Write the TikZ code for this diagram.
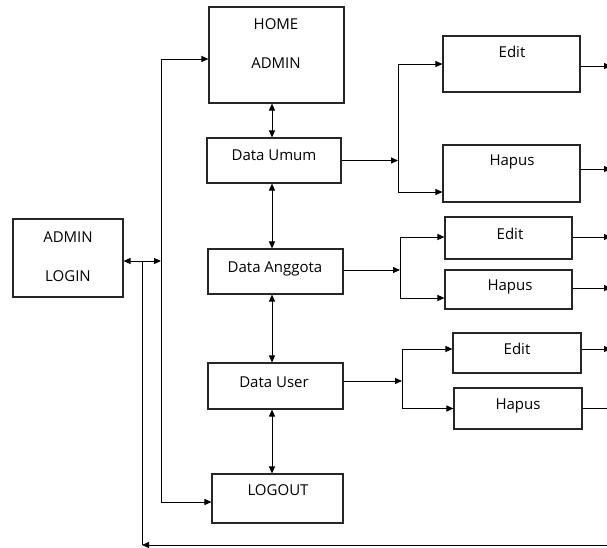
\documentclass[tikz,border=0pt]{standalone}
\usepackage{fontspec}
\setmainfont{Open Sans}
\usetikzlibrary{arrows.meta}
\begin{document}
\begin{tikzpicture}[x=1pt,y=-1pt,
  box/.style={draw=black!85,line width=1.1pt,rectangle,inner sep=0pt},
  txt/.style={anchor=base,inner sep=0pt,font=\fontsize{15}{17}\selectfont},
  conn/.style={line width=1pt},
  arr/.style={conn,-{Triangle[length=7pt,width=6pt]}},
  darr/.style={conn,{Triangle[length=7pt,width=6pt]}-{Triangle[length=7pt,width=6pt]}}]
\useasboundingbox (0,0) rectangle (607,547);
\clip (0,0) rectangle (607,547);
% boxes
\node[box,minimum width=110pt,minimum height=78pt] (login) at (68,258) {};
\node[box,minimum width=135pt,minimum height=96pt] (home) at (276.5,55) {};
\node[box,minimum width=134pt,minimum height=45pt] (umum) at (274,160.5) {};
\node[box,minimum width=135pt,minimum height=45pt] (anggota) at (275.5,271.5) {};
\node[box,minimum width=135pt,minimum height=46pt] (user) at (275.5,386) {};
\node[box,minimum width=131pt,minimum height=49pt] (logout) at (277.5,498.5) {};
\node[box,minimum width=137pt,minimum height=56pt] (edit1) at (511.5,64) {};
\node[box,minimum width=137pt,minimum height=57pt] (hapus1) at (511.5,173.5) {};
\node[box,minimum width=127pt,minimum height=42pt] (edit2) at (508.5,238) {};
\node[box,minimum width=127pt,minimum height=39pt] (hapus2) at (508.5,289.5) {};
\node[box,minimum width=128pt,minimum height=40pt] (edit3) at (517,353) {};
\node[box,minimum width=128pt,minimum height=41pt] (hapus3) at (518,408.5) {};
% texts
\node[txt] (loginA) at (68,242.5) {ADMIN};
\node[txt] (loginB) at (68,281.5) {LOGIN};
\node[txt] (homeA) at (276,29.5) {HOME};
\node[txt] (homeB) at (276,68.5) {ADMIN};
\node[txt] (umumT) at (274,160.5) {Data Umum};
\node[txt] (anggotaT) at (275,272.5) {Data Anggota};
\node[txt] (userT) at (274,387.5) {Data User};
\node[txt] (logoutT) at (278,495.5) {LOGOUT};
\node[txt] (edit1T) at (512,57.5) {Edit};
\node[txt] (hapus1T) at (512,165.5) {Hapus};
\node[txt] (edit2T) at (510,239.5) {Edit};
\node[txt] (hapus2T) at (510,290.5) {Hapus};
\node[txt] (edit3T) at (517,354.5) {Edit};
\node[txt] (hapus3T) at (518,409.5) {Hapus};
% helper coordinates
\coordinate (bus) at (161,0);
\coordinate (loop) at (142,0);
\coordinate (vx) at (272,0);
\coordinate (b1) at (398,0);
\coordinate (b2) at (400,0);
\coordinate (b3) at (402,0);
\coordinate (redge) at (611,0);
\coordinate (bottomR) at (607,545);
\coordinate (bottomL) at (142,545);
% login to bus
\draw[darr] ([yshift=-3pt]login.east) -- ([yshift=-3pt]login.east -| bus);
\draw[conn] ([yshift=-4pt]home.west -| bus) -- ([yshift=-3.5pt]logout.west -| bus);
\draw[arr] ([yshift=-4pt]home.west -| bus) -- ([yshift=-4pt]home.west);
\draw[arr] ([yshift=-3.5pt]logout.west -| bus) -- ([yshift=-3.5pt]logout.west);
% loop back
\draw[conn] ([yshift=-3pt]login.east -| loop) -- (bottomL);
\draw[arr] (bottomR) -- (bottomL);
% vertical double arrows
\draw[darr] (home.south -| vx) -- (umum.north -| vx);
\draw[darr] (umum.south -| vx) -- (anggota.north -| vx);
\draw[darr] (anggota.south -| vx) -- (user.north -| vx);
\draw[darr] (user.south -| vx) -- (logout.north -| vx);
% branch 1
\draw[arr] (umum.east) -- (umum.east -| b1);
\draw[conn] (edit1.west -| b1) -- ([yshift=-18.5pt]hapus1.west -| b1);
\draw[arr] (edit1.west -| b1) -- (edit1.west);
\draw[arr] ([yshift=-18.5pt]hapus1.west -| b1) -- ([yshift=-18.5pt]hapus1.west);
% branch 2
\draw[arr] ([yshift=1.5pt]anggota.east) -- ([yshift=1.5pt]anggota.east -| b2);
\draw[conn] ([yshift=1pt]edit2.west -| b2) -- ([yshift=-8.5pt]hapus2.west -| b2);
\draw[arr] ([yshift=1pt]edit2.west -| b2) -- ([yshift=1pt]edit2.west);
\draw[arr] ([yshift=-8.5pt]hapus2.west -| b2) -- ([yshift=-8.5pt]hapus2.west);
% branch 3
\draw[arr] ([yshift=5pt]user.east) -- ([yshift=5pt]user.east -| b3);
\draw[conn] ([yshift=4pt]edit3.west -| b3) -- (hapus3.west -| b3);
\draw[arr] ([yshift=4pt]edit3.west -| b3) -- ([yshift=4pt]edit3.west);
\draw[arr] (hapus3.west -| b3) -- (hapus3.west);
% right exits
\draw[arr] ([yshift=-2pt]edit1.east) -- ([yshift=-2pt]edit1.east -| redge);
\draw[arr] ([yshift=4.5pt]hapus1.east) -- ([yshift=4.5pt]hapus1.east -| redge);
\draw[arr] ([yshift=1pt]edit2.east) -- ([yshift=1pt]edit2.east -| redge);
\draw[arr] ([yshift=1.5pt]hapus2.east) -- ([yshift=1.5pt]hapus2.east -| redge);
\draw[arr] ([yshift=4pt]edit3.east) -- ([yshift=4pt]edit3.east -| redge);
\draw[conn] (hapus3.east) -- (hapus3.east -| bottomR);
\end{tikzpicture}
\end{document}
